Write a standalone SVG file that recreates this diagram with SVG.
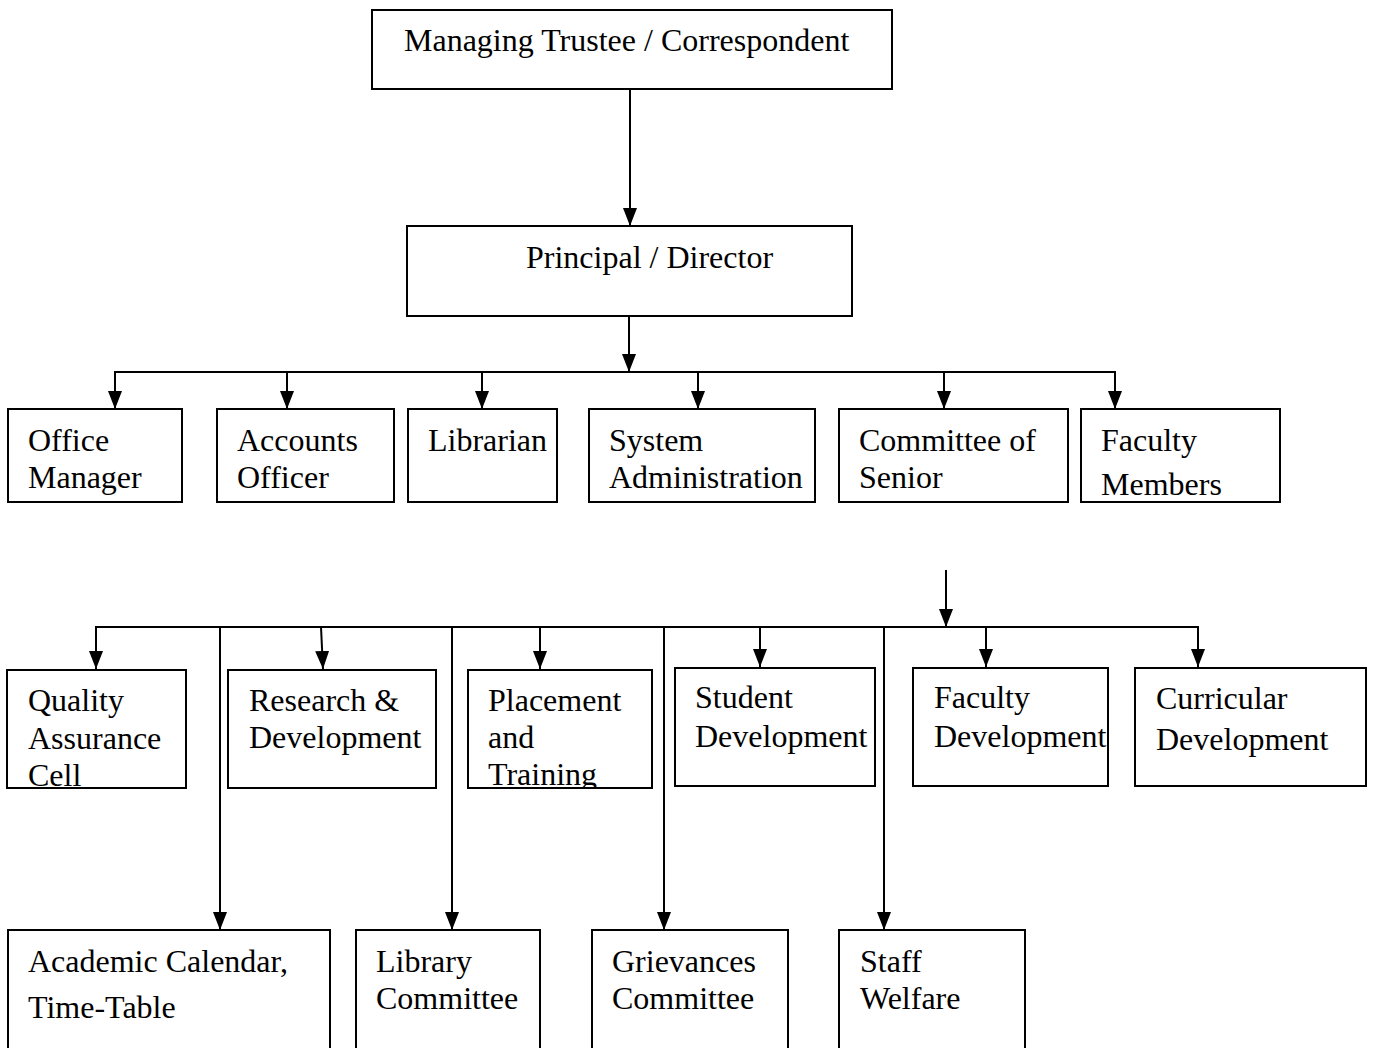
<svg xmlns="http://www.w3.org/2000/svg" width="1375" height="1048" viewBox="0 0 1375 1048">
<style>
.box{fill:#fff;stroke:#000;stroke-width:2}
.t{font-family:"Liberation Serif","Times New Roman",serif;font-size:32px;fill:#000}
.c{fill:none;stroke:#000;stroke-width:2}
</style>
<defs>
<marker id="ah" markerUnits="userSpaceOnUse" markerWidth="18" markerHeight="14" refX="18" refY="7" orient="auto">
<path d="M0,0 L18,7 L0,14 z" fill="#000"/>
</marker>
<clipPath id="cq"><rect x="7" y="670" width="179" height="117"/></clipPath>
<clipPath id="cp"><rect x="468" y="670" width="184" height="117"/></clipPath>
</defs>
<rect width="1375" height="1048" fill="#fff"/>

<g id="connectors">
<line class="c" x1="630" y1="89" x2="630" y2="226" marker-end="url(#ah)"/>
<line class="c" x1="629" y1="316" x2="629" y2="372" marker-end="url(#ah)"/>
<polyline class="c" points="115,409 115,372 1115,372 1115,409"/>
<line class="c" x1="115" y1="372" x2="115" y2="409" marker-end="url(#ah)"/>
<line class="c" x1="287" y1="372" x2="287" y2="409" marker-end="url(#ah)"/>
<line class="c" x1="482" y1="372" x2="482" y2="409" marker-end="url(#ah)"/>
<line class="c" x1="698" y1="372" x2="698" y2="409" marker-end="url(#ah)"/>
<line class="c" x1="944" y1="372" x2="944" y2="409" marker-end="url(#ah)"/>
<line class="c" x1="1115" y1="372" x2="1115" y2="409" marker-end="url(#ah)"/>

<line class="c" x1="946" y1="570" x2="946" y2="627" marker-end="url(#ah)"/>
<polyline class="c" points="96,669 96,627 1198,627 1198,667"/>
<line class="c" x1="96" y1="627" x2="96" y2="669" marker-end="url(#ah)"/>
<line class="c" x1="321" y1="627" x2="323" y2="669" marker-end="url(#ah)"/>
<line class="c" x1="540" y1="627" x2="540" y2="669" marker-end="url(#ah)"/>
<line class="c" x1="760" y1="627" x2="760" y2="667" marker-end="url(#ah)"/>
<line class="c" x1="986" y1="627" x2="986" y2="667" marker-end="url(#ah)"/>
<line class="c" x1="1198" y1="627" x2="1198" y2="667" marker-end="url(#ah)"/>
<line class="c" x1="220" y1="627" x2="220" y2="930" marker-end="url(#ah)"/>
<line class="c" x1="452" y1="627" x2="452" y2="930" marker-end="url(#ah)"/>
<line class="c" x1="664" y1="627" x2="664" y2="930" marker-end="url(#ah)"/>
<line class="c" x1="884" y1="627" x2="884" y2="930" marker-end="url(#ah)"/>
</g>

<g id="n-trustee"><rect class="box" x="372" y="10" width="520" height="79"/><text class="t" x="404" y="51">Managing Trustee / Correspondent</text></g>
<g id="n-principal"><rect class="box" x="407" y="226" width="445" height="90"/><text class="t" x="526" y="268">Principal / Director</text></g>

<g id="n-office"><rect class="box" x="8" y="409" width="174" height="93"/><text class="t" x="28" y="451">Office</text><text class="t" x="28" y="488">Manager</text></g>
<g id="n-accounts"><rect class="box" x="217" y="409" width="177" height="93"/><text class="t" x="237" y="451">Accounts</text><text class="t" x="237" y="488">Officer</text></g>
<g id="n-librarian"><rect class="box" x="408" y="409" width="149" height="93"/><text class="t" x="428" y="451">Librarian</text></g>
<g id="n-sysadmin"><rect class="box" x="589" y="409" width="226" height="93"/><text class="t" x="609" y="451">System</text><text class="t" x="609" y="488">Administration</text></g>
<g id="n-senior"><rect class="box" x="839" y="409" width="229" height="93"/><text class="t" x="859" y="451">Committee of</text><text class="t" x="859" y="488">Senior</text></g>
<g id="n-faculty"><rect class="box" x="1081" y="409" width="199" height="93"/><text class="t" x="1101" y="451">Faculty</text><text class="t" x="1101" y="495">Members</text></g>

<g id="n-qac"><rect class="box" x="7" y="670" width="179" height="118"/><g clip-path="url(#cq)"><text class="t" x="28" y="711">Quality</text><text class="t" x="28" y="749">Assurance</text><text class="t" x="28" y="786">Cell</text></g></g>
<g id="n-rd"><rect class="box" x="228" y="670" width="208" height="118"/><text class="t" x="249" y="711">Research &amp;</text><text class="t" x="249" y="748">Development</text></g>
<g id="n-placement"><rect class="box" x="468" y="670" width="184" height="118"/><g clip-path="url(#cp)"><text class="t" x="488" y="711">Placement</text><text class="t" x="488" y="748">and</text><text class="t" x="488" y="785">Training</text></g></g>
<g id="n-student"><rect class="box" x="675" y="668" width="200" height="118"/><text class="t" x="695" y="708">Student</text><text class="t" x="695" y="747">Development</text></g>
<g id="n-facdev"><rect class="box" x="913" y="668" width="195" height="118"/><text class="t" x="934" y="708">Faculty</text><text class="t" x="934" y="747">Development</text></g>
<g id="n-curr"><rect class="box" x="1135" y="668" width="231" height="118"/><text class="t" x="1156" y="709">Curricular</text><text class="t" x="1156" y="750">Development</text></g>

<g id="n-academic"><rect class="box" x="8" y="930" width="322" height="130"/><text class="t" x="28" y="972">Academic Calendar,</text><text class="t" x="28" y="1018">Time-Table</text></g>
<g id="n-library"><rect class="box" x="356" y="930" width="184" height="130"/><text class="t" x="376" y="972">Library</text><text class="t" x="376" y="1009">Committee</text></g>
<g id="n-grievances"><rect class="box" x="592" y="930" width="196" height="130"/><text class="t" x="612" y="972">Grievances</text><text class="t" x="612" y="1009">Committee</text></g>
<g id="n-staff"><rect class="box" x="839" y="930" width="186" height="130"/><text class="t" x="860" y="972">Staff</text><text class="t" x="860" y="1009">Welfare</text></g>
</svg>
